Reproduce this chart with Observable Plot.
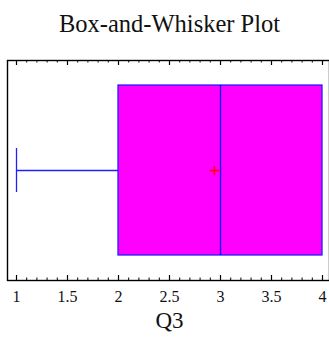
<!DOCTYPE html>
<html>
<head>
<meta charset="utf-8">
<script src="https://cdn.jsdelivr.net/npm/d3@7"></script>
<script src="https://cdn.jsdelivr.net/npm/@observablehq/plot@0.6"></script>
<style>
  html, body { margin: 0; padding: 0; background: #fff; }
  #chart svg { display: block; font-family: "Liberation Serif", serif; }
  #chart svg text { font-family: "Liberation Serif", serif; }
</style>
</head>
<body>
<div id="chart"></div>
<script>
// Data
const title = "Box-and-Whisker Plot";
const variable = ["Q3"];
const minValues = [1];
const q1Values = [2];
const medianValues = [3];
const q3Values = [4];
const maxValues = [4];
const meanValues = [2.94];
const tickLabels = [1, 1.5, 2, 2.5, 3, 3.5, 4];
const minorTicks = d3.range(10, 41).map(d => d / 10);

const rows = variable.map((v, i) => ({
  v, min: minValues[i], q1: q1Values[i], median: medianValues[i],
  q3: q3Values[i], max: maxValues[i], mean: meanValues[i]
}));

const W = 329, H = 338, mTop = 60, mBottom = 58, mLeft = 7, mRight = 0;
const frameH = H - mTop - mBottom;
const serif = "Liberation Serif";

const chart = Plot.plot({
  width: W, height: H,
  marginTop: mTop, marginBottom: mBottom, marginLeft: mLeft, marginRight: mRight,
  style: { fontFamily: serif, background: "white", overflow: "visible" },
  x: { domain: [1 - 9 / 102, 4 + 7 / 102], axis: null },
  y: { domain: variable, axis: null, paddingInner: 0, paddingOuter: 25 / 170 },
  marks: [
    // whisker
    Plot.ruleY(rows, { y: "v", x1: "min", x2: "q1", stroke: "#2020ff", strokeWidth: 1.3 }),
    Plot.tickX(rows, { x: "min", y: "v", stroke: "#2020ff", strokeWidth: 1.3, insetTop: 63, insetBottom: 63 }),
    Plot.ruleY(rows, { y: "v", x1: "q3", x2: "max", stroke: "#2020ff", strokeWidth: 1.3 }),
    // box
    Plot.barX(rows, { y: "v", x1: "q1", x2: "q3", fill: "#ff00ff", stroke: "#2020ff", strokeWidth: 1.3 }),
    // median
    Plot.tickX(rows, { x: "median", y: "v", stroke: "#0000ff", strokeWidth: 1.3 }),
    // mean
    Plot.dot(rows, { x: "mean", y: "v", symbol: "plus", r: 3.2, stroke: "#ff0000", strokeWidth: 1.5 }),
    // frame
    Plot.frame({ stroke: "black", strokeWidth: 1.4 }),
    // ticks (inward, bottom and top)
    Plot.ruleX(tickLabels, { x: d => d, insetTop: frameH - 5, stroke: "black", strokeWidth: 1.2 }),
    Plot.ruleX(tickLabels, { x: d => d, insetBottom: frameH - 5, stroke: "black", strokeWidth: 1.2 }),
    Plot.ruleX(minorTicks, { x: d => d, insetTop: frameH - 2.5, stroke: "black", strokeWidth: 1 }),
    Plot.ruleX(minorTicks, { x: d => d, insetBottom: frameH - 2.5, stroke: "black", strokeWidth: 1 }),
    // tick labels
    Plot.axisX(tickLabels, { anchor: "bottom", tickSize: 0, tickPadding: 10.5, fontSize: 16, fontFamily: serif, fill: "#111", label: null, tickFormat: d => String(d) }),
    // axis label
    Plot.text(variable, { text: d => d, frameAnchor: "bottom", lineAnchor: "bottom", dy: 47, dx: 1, fontSize: 23, fontFamily: serif, fill: "#111" }),
    // title
    Plot.text([title], { text: d => d, frameAnchor: "top", lineAnchor: "bottom", dy: -28.3, dx: 1, fontSize: 24.5, fontFamily: serif, fill: "#111" })
  ]
});
document.getElementById("chart").appendChild(chart);
</script>
</body>
</html>
